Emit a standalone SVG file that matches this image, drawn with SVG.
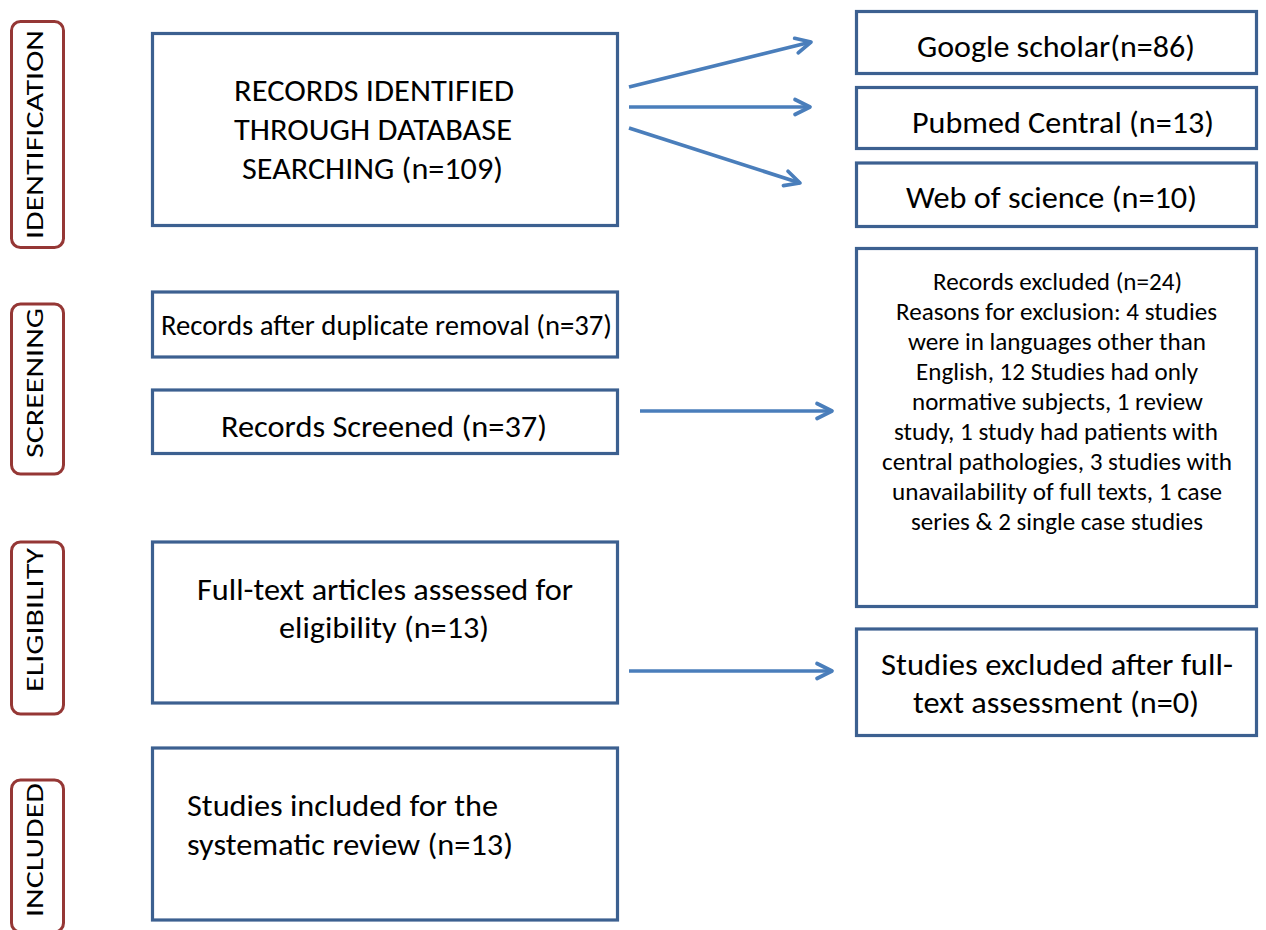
<svg xmlns="http://www.w3.org/2000/svg" width="1266" height="930" viewBox="0 0 1266 930">
<style>
  .box { fill: #ffffff; stroke: #3C6090; stroke-width: 3.2; }
  .lab { fill: #ffffff; stroke: #953735; stroke-width: 3; }
  .t { font-family: Carlito, Lato, "Liberation Sans", sans-serif; fill: #000000; }
  .big { font-size: 30px; }
  .mid { font-size: 28px; }
  .lg { font-size: 31px; }
  .sm { font-size: 24.5px; }
  .side { font-size: 25px; text-anchor: middle; }
  .arr { stroke: #4A7EBB; stroke-width: 3.7; fill: none; marker-end: url(#chev); }
</style>
<defs>
  <marker id="chev" markerUnits="userSpaceOnUse" viewBox="-20 -10 24 20" refX="0" refY="0" markerWidth="24" markerHeight="20" orient="auto" overflow="visible">
    <path d="M -15 -7.5 L 0 0 L -15 7.5" fill="none" stroke="#4A7EBB" stroke-width="3.7" stroke-linecap="round" stroke-linejoin="round"/>
  </marker>
</defs>

<g id="stage-identification">
  <rect class="lab" x="11.5" y="21.5" width="52" height="226" rx="9"/>
  <text class="t side" transform="translate(43,134.5) rotate(-90)" textLength="209" lengthAdjust="spacingAndGlyphs">IDENTIFICATION</text>
</g>
<g id="stage-screening">
  <rect class="lab" x="11.5" y="304" width="52" height="170" rx="9"/>
  <text class="t side" transform="translate(43,383) rotate(-90)" textLength="150" lengthAdjust="spacingAndGlyphs">SCREENING</text>
</g>
<g id="stage-eligibility">
  <rect class="lab" x="11.5" y="542" width="52" height="172" rx="9"/>
  <text class="t side" transform="translate(43,620) rotate(-90)" textLength="144" lengthAdjust="spacingAndGlyphs">ELIGIBILITY</text>
</g>
<g id="stage-included">
  <rect class="lab" x="11.5" y="780" width="52" height="152" rx="9"/>
  <text class="t side" transform="translate(43,850) rotate(-90)" textLength="134" lengthAdjust="spacingAndGlyphs">INCLUDED</text>
</g>

<g id="records-identified">
  <rect class="box" x="152.5" y="33.5" width="465" height="192"/>
  <text class="t big" x="234" y="101" textLength="280" lengthAdjust="spacingAndGlyphs">RECORDS IDENTIFIED</text>
  <text class="t big" x="234" y="140" textLength="278" lengthAdjust="spacingAndGlyphs">THROUGH DATABASE</text>
  <text class="t big" x="242" y="179" textLength="261" lengthAdjust="spacingAndGlyphs">SEARCHING (n=109)</text>
</g>

<g id="google-scholar">
  <rect class="box" x="856.5" y="11.5" width="400" height="62"/>
  <text class="t big" x="917" y="57" textLength="278" lengthAdjust="spacingAndGlyphs">Google scholar(n=86)</text>
</g>
<g id="pubmed-central">
  <rect class="box" x="856.5" y="87.5" width="400" height="61"/>
  <text class="t big" x="912" y="133" textLength="302" lengthAdjust="spacingAndGlyphs">Pubmed Central (n=13)</text>
</g>
<g id="web-of-science">
  <rect class="box" x="856.5" y="163" width="400" height="63.5"/>
  <text class="t big" x="906" y="208" textLength="291" lengthAdjust="spacingAndGlyphs">Web of science (n=10)</text>
</g>

<g id="records-after-duplicates">
  <rect class="box" x="152.5" y="292" width="465" height="65"/>
  <text class="t mid" x="161" y="335" textLength="451" lengthAdjust="spacingAndGlyphs">Records after duplicate removal (n=37)</text>
</g>
<g id="records-screened">
  <rect class="box" x="152.5" y="390" width="465" height="63.5"/>
  <text class="t big" x="221" y="437" textLength="326" lengthAdjust="spacingAndGlyphs">Records Screened (n=37)</text>
</g>

<g id="records-excluded">
  <rect class="box" x="856.5" y="248.5" width="400" height="358"/>
  <text class="t sm" x="933" y="290" textLength="249" lengthAdjust="spacingAndGlyphs">Records excluded  (n=24)</text>
  <text class="t sm" x="896" y="320" textLength="321" lengthAdjust="spacingAndGlyphs">Reasons for exclusion: 4 studies</text>
  <text class="t sm" x="908" y="350" textLength="298" lengthAdjust="spacingAndGlyphs">were in languages other than</text>
  <text class="t sm" x="916" y="380" textLength="282" lengthAdjust="spacingAndGlyphs">English, 12 Studies had only</text>
  <text class="t sm" x="912" y="410" textLength="291" lengthAdjust="spacingAndGlyphs">normative subjects, 1 review</text>
  <text class="t sm" x="894" y="440" textLength="324" lengthAdjust="spacingAndGlyphs">study, 1 study had patients with</text>
  <text class="t sm" x="882" y="470" textLength="350" lengthAdjust="spacingAndGlyphs">central pathologies, 3 studies with</text>
  <text class="t sm" x="892" y="500" textLength="330" lengthAdjust="spacingAndGlyphs">unavailability of full texts, 1 case</text>
  <text class="t sm" x="911" y="530" textLength="292" lengthAdjust="spacingAndGlyphs">series &amp; 2 single case studies</text>
</g>

<g id="full-text-assessed">
  <rect class="box" x="152.5" y="542" width="465" height="161"/>
  <text class="t lg" x="197" y="600" textLength="376" lengthAdjust="spacingAndGlyphs">Full-text articles assessed for</text>
  <text class="t lg" x="279" y="638" textLength="210" lengthAdjust="spacingAndGlyphs">eligibility (n=13)</text>
</g>
<g id="studies-excluded">
  <rect class="box" x="856.5" y="629" width="400" height="106.5"/>
  <text class="t lg" x="881" y="675" textLength="352" lengthAdjust="spacingAndGlyphs">Studies excluded after full-</text>
  <text class="t lg" x="913" y="713" textLength="286" lengthAdjust="spacingAndGlyphs">text assessment (n=0)</text>
</g>

<g id="studies-included">
  <rect class="box" x="152.5" y="748" width="465" height="172"/>
  <text class="t lg" x="187" y="816" textLength="311" lengthAdjust="spacingAndGlyphs">Studies included for the</text>
  <text class="t lg" x="187" y="855" textLength="326" lengthAdjust="spacingAndGlyphs">systematic review (n=13)</text>
</g>

<g id="connectors">
  <line class="arr" x1="629" y1="87" x2="811" y2="42"/>
  <line class="arr" x1="629" y1="107" x2="810" y2="107"/>
  <line class="arr" x1="629" y1="128" x2="800" y2="183"/>
  <line class="arr" x1="640" y1="411" x2="832" y2="411"/>
  <line class="arr" x1="629" y1="671" x2="832" y2="671"/>
</g>
</svg>
